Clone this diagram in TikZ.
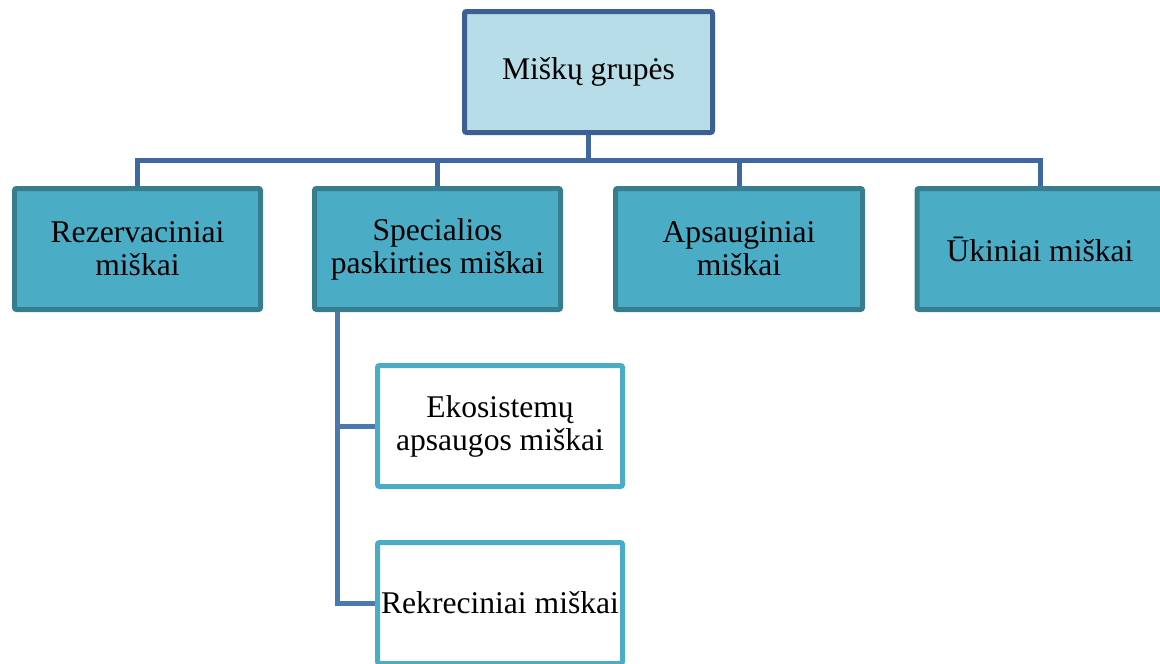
\documentclass[tikz,border=0pt]{standalone}
\usepackage{fontspec}
\setmainfont{Liberation Serif}
\definecolor{topline}{RGB}{60,96,146}
\definecolor{topfill}{RGB}{183,221,232}
\definecolor{midfill}{RGB}{75,172,198}
\definecolor{midline}{RGB}{55,125,142}
\definecolor{leafline}{RGB}{75,172,198}
\definecolor{linkcol}{RGB}{64,104,160}
\definecolor{trunkcol}{RGB}{74,120,176}
\begin{document}
\begin{tikzpicture}[x=1pt,y=-1pt,
  box/.style={rectangle, rounded corners=2pt, line width=5pt,
    minimum width=246pt, minimum height=121pt, align=center, inner sep=0pt,
    font=\fontsize{31.6}{33}\selectfont},
  topbox/.style={box, draw=topline, fill=topfill, minimum width=248pt},
  midbox/.style={box, draw=midline, fill=midfill},
  leafbox/.style={box, draw=leafline, fill=white, minimum width=245pt},
  link/.style={draw=linkcol, line width=5pt},
  trunk/.style={draw=trunkcol, line width=5pt},
]
\useasboundingbox (0,0) rectangle (1160,664);
\clip (0,0) rectangle (1160,664);

% boxes
\node[topbox] (root) at (588.5,72) {Miškų grupės};
\node[midbox] (rez)  at (137.5,249) {Rezervaciniai\\miškai};
\node[midbox] (spec) at (437.5,249) {Specialios\\paskirties miškai};
\node[midbox, minimum width=247pt] (aps) at (739,249) {Apsauginiai\\miškai};
\node[midbox] (uki)  at (1040,249) {Ūkiniai miškai};
\node[leafbox] (eko) at (500,426) {Ekosistemų\\apsaugos miškai};
\node[leafbox] (rek) at (500,603) {Rekreciniai miškai};

% top-level bus
\coordinate (bus) at (588.5,160);
\draw[link] (root.south) -- (bus);
\draw[link] (rez.north) |- (bus) -| (uki.north);
\draw[link] (spec.north) -- (spec.north |- bus);
\draw[link] (aps.north) -- (aps.north |- bus);

% sub-branches of the special-purpose forests
\coordinate (stem) at ([xshift=25.5pt]spec.south west);
\draw[trunk] (stem) |- (rek.west);
\draw[trunk] (stem |- eko.west) -- (eko.west);
\end{tikzpicture}
\end{document}
